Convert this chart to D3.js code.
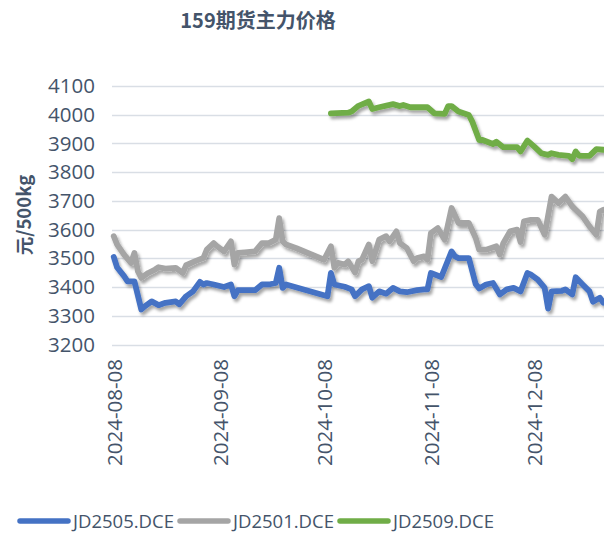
<!DOCTYPE html>
<html>
<head>
<meta charset="utf-8">
<script src="https://cdn.jsdelivr.net/npm/d3@7"></script>
<style>
  body { margin: 0; background: #fff; }
  text { font-family: 'Open Sans', 'Noto Sans CJK SC', sans-serif; fill: #44546A; }
</style>
</head>
<body>
<div id="viz"></div>
<script>
// chart data
var chartTitle = '159期货主力价格';
var yTitle = '元/500kg';
var yTicks = [3200, 3300, 3400, 3500, 3600, 3700, 3800, 3900, 4000, 4100];
var xTickLabels = ['2024-08-08', '2024-09-08', '2024-10-08', '2024-11-08', '2024-12-08'];
var seriesNames = ['JD2505.DCE', 'JD2501.DCE', 'JD2509.DCE'];
var seriesColors = ['#4472C4', '#A5A5A5', '#70AD47'];

var jd2505Dates = ['2024-08-08','2024-08-09','2024-08-11','2024-08-12','2024-08-14','2024-08-16','2024-08-17','2024-08-19',
  '2024-08-21','2024-08-23','2024-08-26','2024-08-27','2024-08-29','2024-08-31','2024-09-02','2024-09-03','2024-09-04',
  '2024-09-06','2024-09-09','2024-09-11','2024-09-12','2024-09-13','2024-09-15','2024-09-18','2024-09-20','2024-09-22',
  '2024-09-24','2024-09-25','2024-09-26','2024-09-27','2024-10-09','2024-10-10','2024-10-11','2024-10-14','2024-10-16',
  '2024-10-17','2024-10-19','2024-10-21','2024-10-22','2024-10-24','2024-10-26','2024-10-28','2024-10-30','2024-11-01',
  '2024-11-04','2024-11-06','2024-11-07','2024-11-08','2024-11-11','2024-11-14','2024-11-15','2024-11-16','2024-11-19',
  '2024-11-21','2024-11-22','2024-11-24','2024-11-26','2024-11-28','2024-11-30','2024-12-02','2024-12-04','2024-12-06',
  '2024-12-07','2024-12-09','2024-12-11','2024-12-12','2024-12-13','2024-12-16','2024-12-17','2024-12-19','2024-12-20',
  '2024-12-22','2024-12-24','2024-12-25','2024-12-27','2024-12-28'];
var jd2505Values = [3505,3468,3438,3420,3420,3322,3333,3350,
  3337,3345,3350,3340,3368,3385,3418,3409,3414,
  3409,3400,3409,3368,3389,3389,3389,3409,3409,
  3414,3467,3397,3409,3368,3449,3409,3401,3392,
  3368,3392,3403,3363,3385,3377,3397,3385,3382,
  3389,3392,3392,3449,3435,3524,3507,3501,3501,
  3410,3395,3409,3414,3374,3392,3397,3385,3449,
  3443,3426,3397,3325,3385,3387,3392,3374,3434,
  3409,3385,3349,3363,3346];

var jd2501Dates = ['2024-08-08','2024-08-09','2024-08-11','2024-08-13','2024-08-14','2024-08-15','2024-08-16','2024-08-18',
  '2024-08-20','2024-08-21','2024-08-23','2024-08-26','2024-08-28','2024-08-29','2024-09-01','2024-09-03','2024-09-04',
  '2024-09-06','2024-09-07','2024-09-09','2024-09-11','2024-09-12','2024-09-13','2024-09-15','2024-09-18','2024-09-20',
  '2024-09-22','2024-09-24','2024-09-25','2024-09-26','2024-09-27','2024-09-30','2024-10-08','2024-10-10','2024-10-11',
  '2024-10-12','2024-10-14','2024-10-15','2024-10-17','2024-10-18','2024-10-19','2024-10-21','2024-10-22','2024-10-24',
  '2024-10-26','2024-10-27','2024-10-29','2024-10-30','2024-11-01','2024-11-03','2024-11-04','2024-11-06','2024-11-07',
  '2024-11-08','2024-11-10','2024-11-12','2024-11-14','2024-11-16','2024-11-19','2024-11-21','2024-11-22','2024-11-24',
  '2024-11-27','2024-11-28','2024-11-29','2024-12-01','2024-12-03','2024-12-04','2024-12-05','2024-12-07','2024-12-09',
  '2024-12-11','2024-12-13','2024-12-15','2024-12-17','2024-12-19','2024-12-20','2024-12-22','2024-12-24','2024-12-26',
  '2024-12-27','2024-12-28'];
var jd2501Values = [3577,3548,3513,3484,3519,3455,3432,3449,
  3461,3469,3464,3467,3449,3476,3492,3501,3530,
  3553,3542,3524,3559,3478,3519,3521,3524,3553,
  3553,3565,3640,3559,3548,3535,3495,3542,3467,
  3484,3478,3490,3451,3490,3495,3548,3490,3565,
  3577,3559,3594,3553,3536,3490,3501,3507,3495,
  3588,3605,3565,3675,3623,3623,3571,3530,3530,
  3542,3513,3553,3594,3600,3557,3629,3634,3634,
  3582,3715,3692,3715,3681,3669,3646,3611,3582,
  3663,3669];

var jd2509Dates = ['2024-10-10','2024-10-15','2024-10-16','2024-10-18','2024-10-21','2024-10-22','2024-10-24','2024-10-28',
  '2024-10-30','2024-10-31','2024-11-02','2024-11-07','2024-11-09','2024-11-12','2024-11-13','2024-11-14','2024-11-16',
  '2024-11-19','2024-11-20','2024-11-22','2024-11-23','2024-11-26','2024-11-27','2024-11-29','2024-12-03','2024-12-04',
  '2024-12-06','2024-12-08','2024-12-10','2024-12-12','2024-12-13','2024-12-15','2024-12-18','2024-12-19','2024-12-20',
  '2024-12-21','2024-12-24','2024-12-26','2024-12-28'];
var jd2509Values = [4005,4007,4011,4031,4046,4020,4026,4037,
  4030,4034,4026,4026,4005,4003,4030,4030,4011,
  3999,3976,3912,3912,3898,3906,3887,3887,3872,
  3910,3889,3866,3860,3866,3860,3857,3845,3872,
  3857,3857,3880,3878];

var parseDate = d3.timeParse('%Y-%m-%d');

function toPoints(dates, values) {
  return dates.map(function (d, i) { return { date: parseDate(d), value: values[i] }; });
}

var series = [
  toPoints(jd2505Dates, jd2505Values),
  toPoints(jd2501Dates, jd2501Values),
  toPoints(jd2509Dates, jd2509Values)
];

// svg
var width = 604, height = 533;
var svg = d3.select('#viz').append('svg')
  .attr('width', width)
  .attr('height', height);

// drop shadow for the lines
var defs = svg.append('defs');
var shadow = defs.append('filter')
  .attr('id', 'shadow')
  .attr('x', '-10%').attr('y', '-10%')
  .attr('width', '120%').attr('height', '130%');
shadow.append('feDropShadow')
  .attr('dx', 2).attr('dy', 3)
  .attr('stdDeviation', 1.8)
  .attr('flood-color', '#000')
  .attr('flood-opacity', 0.35);

// scales
var x = d3.scaleTime()
  .domain([new Date(2024, 7, 7, 12), new Date(2024, 11, 28, 12)])
  .range([112, 605]);
var y = d3.scaleLinear()
  .domain([3200, 4100])
  .range([344.5, 86]);

// title
svg.append('text')
  .attr('x', 258)
  .attr('y', 28)
  .attr('text-anchor', 'middle')
  .style('font-family', "'Noto Sans CJK SC', sans-serif")
  .style('font-size', '20px')
  .style('font-weight', 'bold')
  .text(chartTitle);

// gridlines
svg.append('g')
  .attr('class', 'grid')
  .selectAll('line')
  .data(yTicks)
  .enter()
  .append('line')
  .attr('x1', 112)
  .attr('x2', width)
  .attr('y1', function (d) { return Math.round(y(d)) + 0.5; })
  .attr('y2', function (d) { return Math.round(y(d)) + 0.5; })
  .attr('stroke', '#D9DEE5')
  .attr('stroke-width', 1.3);

// y axis labels
var yAxis = svg.append('g')
  .attr('transform', 'translate(104,0)')
  .call(d3.axisLeft(y).tickValues(yTicks).tickSize(0).tickPadding(9).tickFormat(d3.format('d')));
yAxis.select('.domain').remove();
yAxis.selectAll('text')
  .style('font-size', '20.5px')
  .style('font-family', "'Open Sans', sans-serif")
  .attr('fill', '#44546A');

// y axis title
svg.append('text')
  .attr('transform', 'translate(31,215) rotate(-90)')
  .attr('text-anchor', 'middle')
  .style('font-family', "'Noto Sans CJK SC', sans-serif")
  .style('font-size', '18.5px')
  .style('font-weight', 'bold')
  .text(yTitle);

// x axis labels (rotated)
var xTickDates = xTickLabels.map(parseDate);
var xAxis = svg.append('g')
  .attr('transform', 'translate(0,344)')
  .call(d3.axisBottom(x).tickValues(xTickDates).tickSize(0).tickFormat(d3.timeFormat('%Y-%m-%d')));
xAxis.select('.domain').remove();
xAxis.selectAll('text')
  .attr('transform', 'rotate(-90)')
  .attr('text-anchor', 'end')
  .attr('x', -15)
  .attr('y', 0)
  .attr('dy', '0.36em')
  .style('font-size', '20.5px')
  .style('font-family', "'Open Sans', sans-serif")
  .attr('fill', '#44546A');

// lines
var line = d3.line()
  .x(function (d) { return x(d.date); })
  .y(function (d) { return y(d.value); });

svg.append('g')
  .attr('filter', 'url(#shadow)')
  .selectAll('path')
  .data(series)
  .enter()
  .append('path')
  .attr('d', line)
  .attr('fill', 'none')
  .attr('stroke', function (d, i) { return seriesColors[i]; })
  .attr('stroke-width', 5.8)
  .attr('stroke-linejoin', 'round')
  .attr('stroke-linecap', 'round');

// legend
var legendX = [18, 178, 338];
var legend = svg.append('g').attr('class', 'legend');
var items = legend.selectAll('g')
  .data(seriesNames)
  .enter()
  .append('g')
  .attr('transform', function (d, i) { return 'translate(' + legendX[i] + ',521)'; });
items.append('line')
  .attr('x1', 2).attr('x2', 50)
  .attr('y1', 0).attr('y2', 0)
  .attr('stroke', function (d, i) { return seriesColors[i]; })
  .attr('stroke-width', 5.5)
  .attr('stroke-linecap', 'round');
items.append('text')
  .attr('x', 55)
  .attr('y', 0)
  .attr('dy', '0.36em')
  .style('font-size', '18.5px')
  .text(function (d) { return d; });
</script>
</body>
</html>
